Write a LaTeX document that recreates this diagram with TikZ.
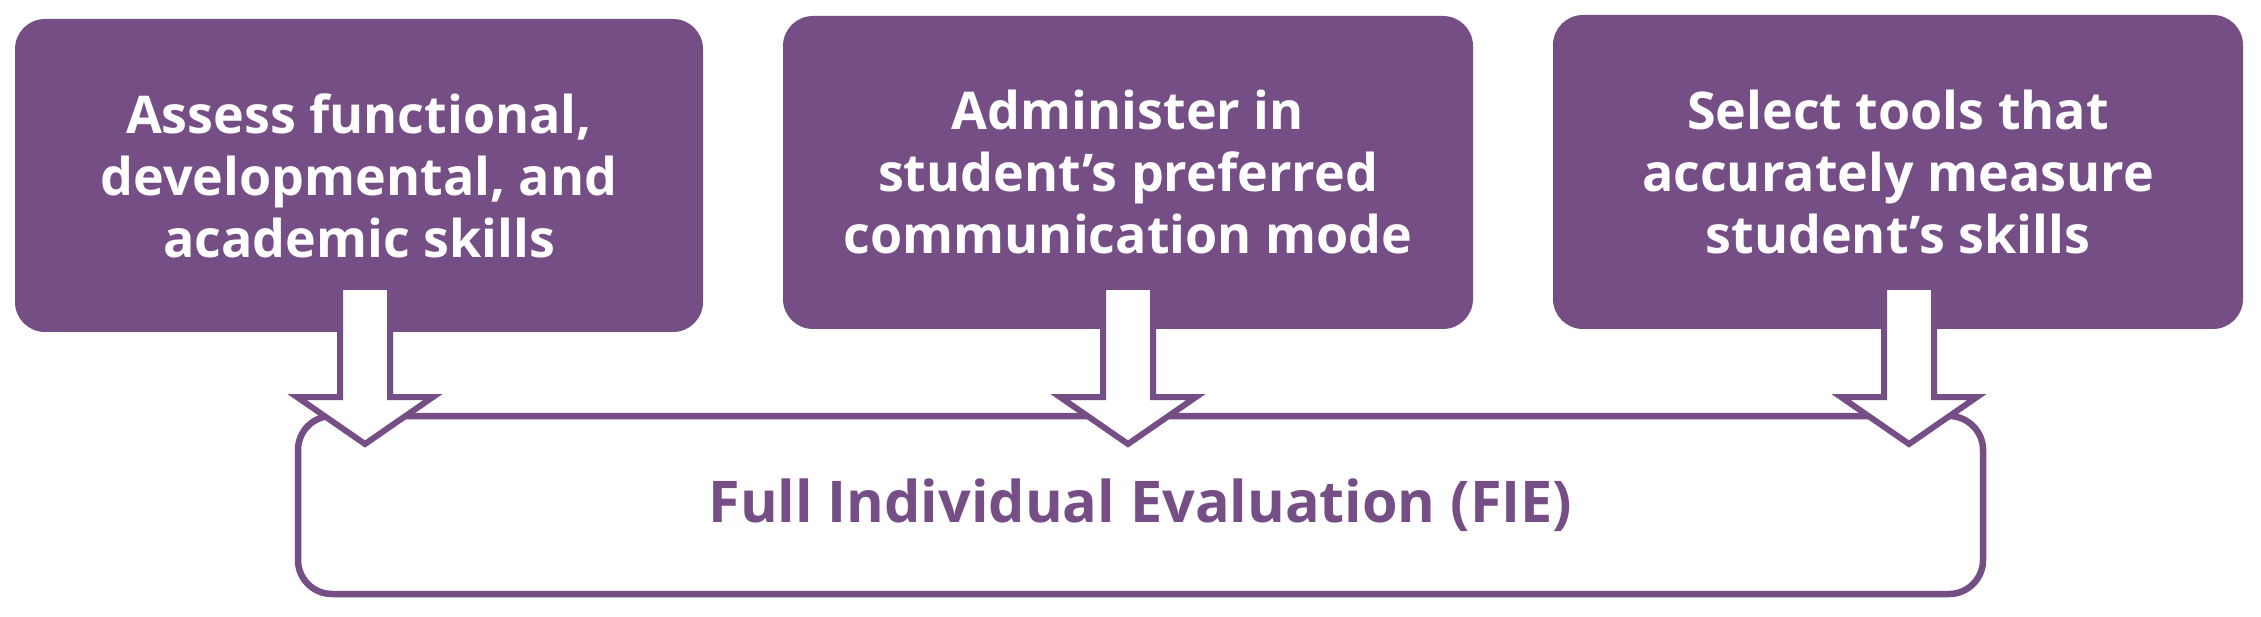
\documentclass[tikz,border=0pt]{standalone}
\usepackage{fontspec}
\setmainfont{Open Sans}
\usetikzlibrary{calc}
\definecolor{fiepurple}{RGB}{118,78,134}
\tikzset{
  topbox/.style={fill=fiepurple, draw=none, rounded corners=30pt, text=white,
    align=center, font=\fontsize{52}{62}\selectfont\bfseries, inner sep=0pt},
  fiebox/.style={draw=fiepurple, fill=white, line width=6.5pt, rounded corners=34pt,
    text=fiepurple, align=center, font=\fontsize{57.5}{64}\selectfont\bfseries, inner sep=0pt},
  blockarrow/.style={draw=fiepurple, fill=white, line width=6pt, line join=miter},
}
\begin{document}
\begin{tikzpicture}[x=1pt,y=-1pt]
\useasboundingbox (0,0) rectangle (2261,617);
\fill[white] (0,0) rectangle (2261,617);
\node[topbox, minimum width=688pt, minimum height=313pt] (b1) at (359,175.5)
  {Assess functional,\\developmental, and\\academic skills};
\node[topbox, minimum width=690pt, minimum height=313pt] (b2) at (1128,172.5)
  {Administer in\\student’s preferred\\communication mode};
\node[topbox, minimum width=690pt, minimum height=314pt] (b3) at (1898,172)
  {Select tools that\\accurately measure\\student’s skills};
\node[fiebox, minimum width=1685pt, minimum height=178pt] (fie) at (1140.5,505)
  {Full Individual Evaluation (FIE)};
\coordinate (a1) at (365,287);
\coordinate (a2) at (1128,287);
\coordinate (a3) at (1909,287);
\foreach \a in {a1,a2,a3}{
  \draw[blockarrow] ($(\a)+(-25,0)$) -- ($(\a)+(-25,110)$) -- ($(\a)+(-68,110)$)
    -- ($(\a)+(0,157)$) -- ($(\a)+(68,110)$) -- ($(\a)+(25,110)$) -- ($(\a)+(25,0)$) -- cycle;
}
\end{tikzpicture}
\end{document}
